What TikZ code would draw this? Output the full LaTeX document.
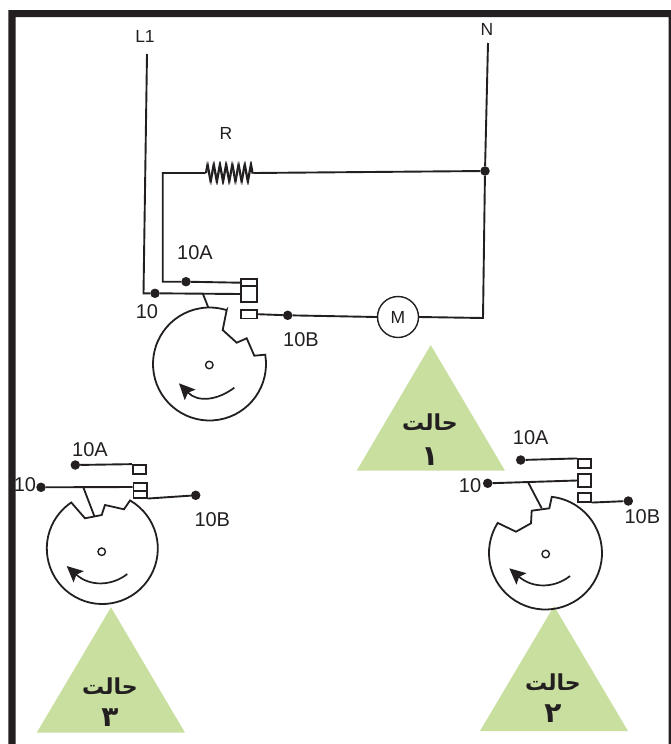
\documentclass[tikz,border=0pt]{standalone}
\usepackage{fontspec}
\setmainfont{Liberation Sans}
\newfontfamily\arabicfont[Script=Arabic]{DejaVu Sans}
\TeXXeTstate=1
\usetikzlibrary{arrows.meta,calc,decorations.pathmorphing}
\definecolor{ink}{HTML}{231F20}
\definecolor{tri}{HTML}{C8DFA0}
\tikzset{
  wire/.style={draw=ink,line width=1.9pt,line join=miter},
  camline/.style={draw=ink,line width=1.8pt,line join=miter},
  rotarrow/.style={draw=ink,line width=1.7pt,-{Stealth[length=16pt,width=15pt,inset=3pt]}},
  dot/.style={circle,fill=ink,inner sep=0pt,minimum size=9.5pt},
  hole/.style={circle,draw=ink,line width=1.4pt,inner sep=0pt,minimum size=7.5pt,fill=white},
  contact/.style={rectangle,draw=ink,line width=1.7pt,inner sep=0pt,fill=white},
  lab/.style={text=ink,inner sep=0pt,font=\fontsize{20}{22}\selectfont},
  smalllab/.style={text=ink,inner sep=0pt,font=\fontsize{17.5}{19}\selectfont},
  triangle/.style={fill=tri,draw=none},
  state/.style={text=ink,inner sep=0pt,font=\arabicfont\bfseries\fontsize{22}{24}\selectfont},
  statenum/.style={text=ink,inner sep=0pt,font=\arabicfont\bfseries\fontsize{28}{30}\selectfont},
}
\begin{document}
\begin{tikzpicture}[x=1pt,y=-1pt]
\useasboundingbox (0,0) rectangle (671,744);
% frame
\fill[ink] (8.3,744) -- (8.3,10) -- (671,10) -- (671,744) -- (668.5,744) -- (668.5,17) -- (15.7,17) -- (15.7,744) -- cycle;
% triangles
\fill[triangle] (430.7,345) -- (356.7,470.7) -- (505,470.7) -- cycle;
\fill[triangle] (111,607.3) -- (36.7,732.7) -- (185,732.7) -- cycle;
\fill[triangle] (554,606) -- (480,731) -- (628,731) -- cycle;
\node[state] (s1) at (430,422) {\beginR حالت\endR};
\node[statenum] (n1) at (430,457) {\beginR ۱\endR};
\node[state] (s3) at (110,686) {\beginR حالت\endR};
\node[statenum] (n3) at (110,718) {\beginR ۳\endR};
\node[state] (s2) at (553,682) {\beginR حالت\endR};
\node[statenum] (n2) at (553,714) {\beginR ۲\endR};

% ---- main circuit
\node[smalllab] (l1lab) at (145,36) {L1};
\node[smalllab] (nlab) at (487,29) {N};
\node[smalllab] (rlab) at (226,133) {R};
\node[lab] (a1lab) at (195,253) {10A};
\node[lab] (c1lab) at (147,312) {10};
\node[lab] (b1lab) at (301,340) {10B};
\coordinate (l1top) at (147,54);
\coordinate (l1bot) at (143.5,293.3);
\coordinate (ntop) at (488,43);
\coordinate (rcorn) at (162.7,173);
\coordinate (rcornb) at (162.7,281.7);
\coordinate (ra) at (205.5,173);
\coordinate (rb) at (253.5,173);
\coordinate (mcorn) at (483,318);
\node[dot] (jn) at (485,171) {};
\node[dot] (d1a) at (186,281.7) {};
\node[dot] (d1c) at (155,293.3) {};
\node[dot] (d1b) at (287.7,315.3) {};
\node[contact,minimum width=16pt,minimum height=7.5pt] (k1a) at (248.7,282.7) {};
\node[contact,minimum width=16pt,minimum height=15.5pt] (k1c) at (248.7,294) {};
\node[contact,minimum width=16pt,minimum height=8.5pt] (k1b) at (248.7,314.2) {};
\node[circle,draw=ink,line width=1.4pt,minimum size=41pt,inner sep=0pt,fill=white,font=\fontsize{17.5}{19}\selectfont,text=ink] (motor) at (398,317) {M};
\draw[wire] (l1top) -- (l1bot) -- (d1c) -- (k1c.west);
\draw[wire] (ntop) -- (jn) -- (mcorn) -- (motor.east);
\draw[wire] (jn) -- (rb);
\draw[wire,line width=1.3pt,decorate,decoration={zigzag,amplitude=8.5pt,segment length=6.2pt}] (ra) -- (rb);
\draw[wire,line width=1.3pt,decorate,decoration={zigzag,amplitude=8.5pt,segment length=6.2pt}] (ra) ++(1,0) -- ++(47,0);
\draw[wire] (ra) -- (rcorn) -- (rcornb) -- (d1a) -- (k1a.west);
\draw[wire] (k1b.east) -- (d1b) -- (motor.west);
% cam 1
\coordinate (c1) at (209.5,364);
\draw[camline] ($(c1)+(-9.5:56.5)$) arc[start angle=9.5,end angle=-287.6,radius=56.5pt]
  -- (226.7,310) -- (222.7,330) -- (236.7,342.7) -- (246.7,338.3) -- (254.3,355.7) -- cycle;
\coordinate (st1a) at (202.7,293.3);
\coordinate (st1b) at (208.3,307.5);
\draw[camline] (st1a) -- (st1b);
\node[hole] (h1) at (209.3,365) {};
\coordinate (t1) at (234.3,387.7);
\coordinate (p1) at (179,383.3);
\draw[rotarrow] (t1) .. controls (218,400) and (198,403) .. (p1);

% ---- state 3
\node[lab] (a3lab) at (90,450) {10A};
\node[lab] (c3lab) at (25,485) {10};
\node[lab] (b3lab) at (212.3,519.3) {10B};
\node[dot] (d3a) at (75.3,465) {};
\node[dot] (d3c) at (41,487.3) {};
\node[dot] (d3b) at (195.7,495.3) {};
\node[contact,minimum width=13.3pt,minimum height=9pt] (k3a) at (139.3,469.5) {};
\node[contact,minimum width=13.3pt,minimum height=7.4pt] (k3c) at (140,487) {};
\node[contact,minimum width=13.3pt,minimum height=7pt] (k3b) at (140,494.2) {};
\draw[wire] (d3a) -- (k3a.north west);
\draw[wire] (d3c) -- (k3c.west);
\draw[wire] (k3b.south east) -- (d3b);
\coordinate (c3) at (102.3,548.5);
\draw[camline] ($(c3)+(-60:55.5)$) arc[start angle=60,end angle=-236,radius=55.5pt]
  -- (85,518.3) -- (101.7,515) -- (105,505) -- (124,509.3) -- cycle;
\coordinate (st3a) at (83.3,487.3);
\coordinate (st3b) at (94.3,516);
\draw[camline] (st3a) -- (st3b);
\node[hole] (h3) at (101.7,551.7) {};
\coordinate (t3) at (127.3,574);
\coordinate (p3) at (66.7,566);
\draw[rotarrow] (t3) .. controls (112,586) and (90,587) .. (p3);

% ---- state 2
\node[lab] (a2lab) at (530.7,437.3) {10A};
\node[lab] (c2lab) at (470,485.7) {10};
\node[lab] (b2lab) at (642.3,516.7) {10B};
\node[dot] (d2a) at (520.7,460) {};
\node[dot] (d2c) at (487.7,483.3) {};
\node[dot] (d2b) at (628.3,501) {};
\node[contact,minimum width=13.3pt,minimum height=9pt] (k2a) at (584.3,463.8) {};
\node[contact,minimum width=13.3pt,minimum height=12.4pt] (k2c) at (584.3,480.5) {};
\node[contact,minimum width=13.3pt,minimum height=8.4pt] (k2b) at (584.3,497.5) {};
\draw[wire] (d2a) -- (k2a.north west);
\draw[wire] (d2c) -- (k2c.west);
\draw[wire] (k2b.south east) -- (d2b);
\coordinate (c2) at (545.5,553);
\draw[camline] ($(c2)+(-147.8:56.5)$) arc[start angle=147.8,end angle=443.6,radius=56.5pt]
  -- (549.3,508.3) -- (531.7,510.7) -- (531,523.3) -- (516,531.7) -- cycle;
\coordinate (st2a) at (528.3,482.7);
\coordinate (st2b) at (541.7,508.3);
\draw[camline] (st2a) -- (st2b);
\node[hole] (h2) at (545.7,554) {};
\coordinate (t2) at (570,576);
\coordinate (p2) at (509.3,568.3);
\draw[rotarrow] (t2) .. controls (555,588) and (533,589) .. (p2);
\end{tikzpicture}
\end{document}
